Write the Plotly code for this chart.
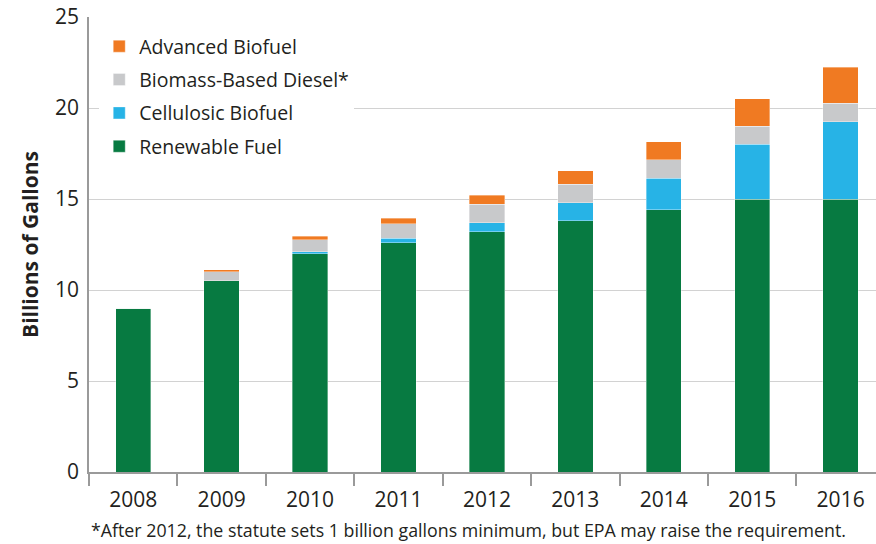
import plotly.graph_objects as go

years = ["2008", "2009", "2010", "2011", "2012", "2013", "2014", "2015", "2016"]
renewable_fuel = [9.0, 10.5, 12.0, 12.6, 13.2, 13.8, 14.4, 15.0, 15.0]
cellulosic_biofuel = [0.0, 0.0, 0.1, 0.25, 0.5, 1.0, 1.75, 3.0, 4.25]
biomass_based_diesel = [0.0, 0.5, 0.65, 0.8, 1.0, 1.0, 1.0, 1.0, 1.0]
advanced_biofuel = [0.0, 0.1, 0.2, 0.3, 0.5, 0.75, 1.0, 1.5, 2.0]

series = [
    ("Renewable Fuel", renewable_fuel, "#077A41"),
    ("Cellulosic Biofuel", cellulosic_biofuel, "#27B3E6"),
    ("Biomass-Based Diesel*", biomass_based_diesel, "#C8C9CB"),
    ("Advanced Biofuel", advanced_biofuel, "#F07A22"),
]

FONT = "Open Sans"
fig = go.Figure()
n = len(series)
for i, (name, vals, color) in enumerate(series):
    fig.add_trace(go.Bar(
        x=years, y=vals, name=name, legendgroup=name, legendrank=n - i,
        marker=dict(color=color, line=dict(color="rgba(255,255,255,0.6)", width=0.6)),
        width=0.4,
    ))

fig.update_layout(
    width=876, height=544,
    barmode="stack",
    plot_bgcolor="white", paper_bgcolor="white",
    margin=dict(l=89, r=0, t=17, b=72, autoexpand=False),
    font=dict(family=FONT, color="#231F20", size=19),
    showlegend=True,
    legend=dict(
        traceorder="grouped", x=0.013, y=0.978, xanchor="left", yanchor="top",
        bgcolor="white", font=dict(size=19.5, family=FONT, color="#231F20"),
        tracegroupgap=5, itemwidth=30,
    ),
    xaxis=dict(
        type="category", range=[-0.5, 8.4], automargin=False,
        showline=True, linecolor="#9a9a9a", linewidth=1.5,
        ticks="outside", tickson="boundaries", ticklen=12, tickcolor="#9a9a9a", tickwidth=1.5,
        ticklabelstandoff=8,
        tickfont=dict(size=21, family=FONT, color="#231F20"),
        showgrid=False,
    ),
    yaxis=dict(
        range=[0, 25], tickvals=[0, 5, 10, 15, 20, 25], automargin=False,
        showline=True, linecolor="#9a9a9a", linewidth=1.5,
        showgrid=True, gridcolor="#d2d2d2", gridwidth=1.2,
        zeroline=False, ticks="", ticklabelstandoff=4, ticklabeloverflow="allow",
        tickfont=dict(size=21, family=FONT, color="#231F20"),
        title=dict(text="<b>Billions of Gallons</b>", standoff=11,
                   font=dict(size=21, family=FONT, color="#231F20")),
    ),
    annotations=[dict(
        text="*After 2012, the statute sets 1 billion gallons minimum, but EPA may raise the requirement.",
        xref="paper", yref="paper", x=0.482, y=-0.1275, xanchor="center", yanchor="middle",
        showarrow=False, font=dict(size=17.8, family=FONT, color="#231F20"),
    )],
)

fig.write_html("out.html", config={"displayModeBar": False},
               post_script="document.body.style.margin='0';")
